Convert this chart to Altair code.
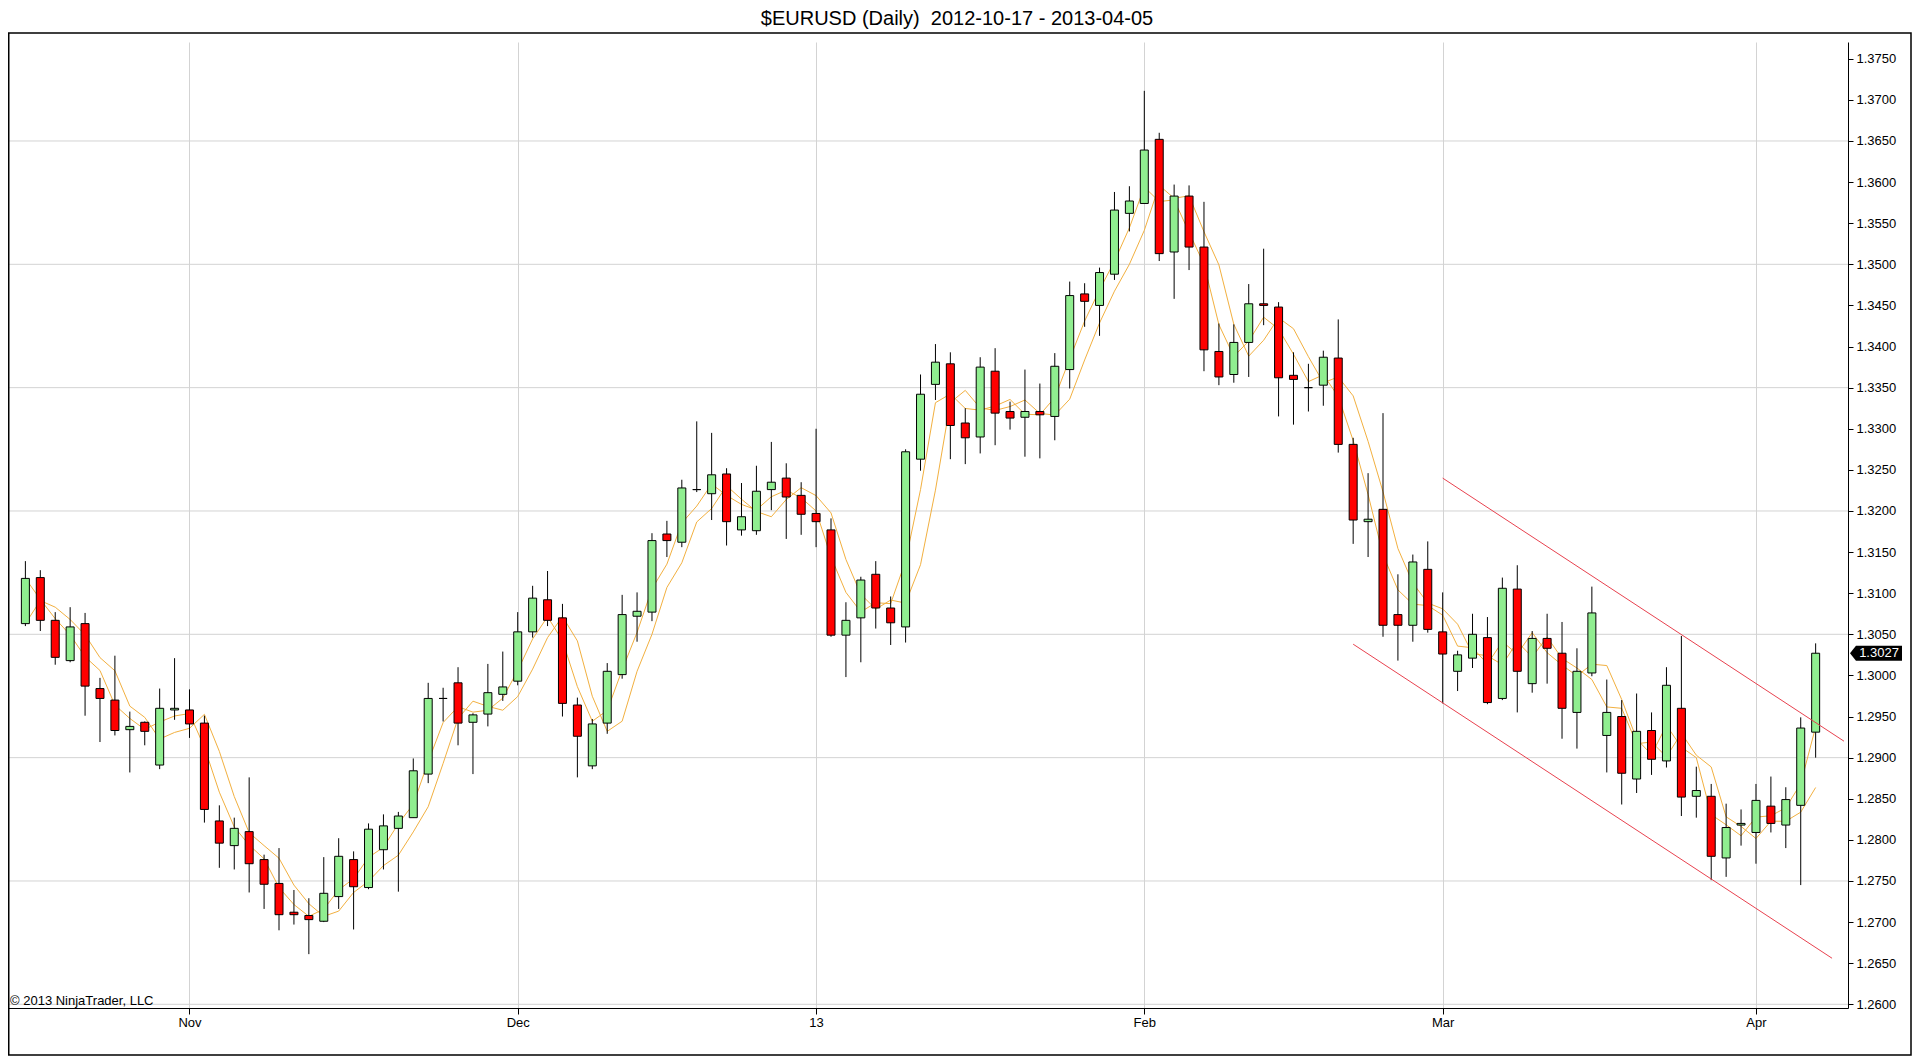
import altair as alt
import pandas as pd

TITLE = "$EURUSD (Daily)\u00a0 2012-10-17 - 2013-04-05"
COPYRIGHT = "\u00a9 2013 NinjaTrader, LLC"

OPEN = [1.3063, 1.3119, 1.3067, 1.3018, 1.3063, 1.2984, 1.2970, 1.2934, 1.2943, 1.2891,
        1.2958, 1.2958, 1.2942, 1.2823, 1.2793, 1.2810, 1.2776, 1.2747, 1.2712, 1.2708,
        1.2701, 1.2731, 1.2776, 1.2742, 1.2788, 1.2814, 1.2827, 1.2880, 1.2972, 1.2991,
        1.2943, 1.2953, 1.2977, 1.2993, 1.3053, 1.3092, 1.3070, 1.2964, 1.2890, 1.2942,
        1.3001, 1.3072, 1.3077, 1.3172, 1.3162, 1.3226, 1.3221, 1.3245, 1.3177, 1.3176,
        1.3226, 1.3240, 1.3219, 1.3197, 1.3177, 1.3049, 1.3070, 1.3123, 1.3082, 1.3059,
        1.3263, 1.3354, 1.3379, 1.3307, 1.3290, 1.3370, 1.3321, 1.3314, 1.3321, 1.3315,
        1.3372, 1.3464, 1.3450, 1.3488, 1.3562, 1.3574, 1.3652, 1.3515, 1.3583, 1.3521,
        1.3394, 1.3366, 1.3405, 1.3452, 1.3448, 1.3365, 1.3350, 1.3353, 1.3386, 1.3281,
        1.3187, 1.3202, 1.3074, 1.3061, 1.3129, 1.3053, 1.3005, 1.3021, 1.3046, 1.2972,
        1.3105, 1.2990, 1.3045, 1.3027, 1.2955, 1.3003, 1.2927, 1.2950, 1.2874, 1.2933,
        1.2896, 1.2960, 1.2853, 1.2853, 1.2778, 1.2818, 1.2809, 1.2841, 1.2818, 1.2842,
        1.2931]
HIGH = [1.3139, 1.3128, 1.3077, 1.3083, 1.3076, 1.2997, 1.3024, 1.2956, 1.2944, 1.2984,
        1.3021, 1.2983, 1.2951, 1.2842, 1.2827, 1.2876, 1.2782, 1.2790, 1.2739, 1.2729,
        1.2779, 1.2802, 1.2786, 1.2820, 1.2831, 1.2834, 1.2899, 1.2991, 1.2985, 1.3010,
        1.2954, 1.3014, 1.3029, 1.3077, 1.3109, 1.3127, 1.3087, 1.2973, 1.2947, 1.3015,
        1.3098, 1.3101, 1.3173, 1.3188, 1.3238, 1.3309, 1.3295, 1.3252, 1.3234, 1.3255,
        1.3284, 1.3258, 1.3235, 1.3300, 1.3191, 1.3089, 1.3120, 1.3139, 1.3096, 1.3275,
        1.3366, 1.3403, 1.3393, 1.3325, 1.3387, 1.3398, 1.3333, 1.3372, 1.3355, 1.3392,
        1.3479, 1.3477, 1.3496, 1.3588, 1.3595, 1.3711, 1.3660, 1.3597, 1.3596, 1.3576,
        1.3428, 1.3427, 1.3476, 1.3519, 1.3454, 1.3393, 1.3379, 1.3395, 1.3433, 1.3289,
        1.3246, 1.3319, 1.3123, 1.3147, 1.3163, 1.3101, 1.3030, 1.3075, 1.3071, 1.3119,
        1.3134, 1.3054, 1.3075, 1.3065, 1.3033, 1.3108, 1.2995, 1.2970, 1.2978, 1.2955,
        1.3010, 1.3048, 1.2889, 1.2868, 1.2844, 1.2837, 1.2868, 1.2877, 1.2864, 1.2949,
        1.3039]
LOW = [1.3060, 1.3054, 1.3013, 1.3016, 1.2951, 1.2919, 1.2927, 1.2882, 1.2915, 1.2886,
       1.2946, 1.2924, 1.2821, 1.2766, 1.2764, 1.2736, 1.2716, 1.2690, 1.2697, 1.2661,
       1.2700, 1.2716, 1.2691, 1.2740, 1.2764, 1.2737, 1.2827, 1.2869, 1.2944, 1.2915,
       1.2880, 1.2938, 1.2969, 1.2988, 1.3046, 1.3060, 1.2950, 1.2876, 1.2886, 1.2929,
       1.2996, 1.3041, 1.3066, 1.3144, 1.3156, 1.3223, 1.3189, 1.3158, 1.3170, 1.3171,
       1.3201, 1.3166, 1.3171, 1.3156, 1.3047, 1.2998, 1.3016, 1.3057, 1.3037, 1.3040,
       1.3249, 1.3335, 1.3263, 1.3257, 1.3270, 1.3280, 1.3299, 1.3266, 1.3264, 1.3286,
       1.3349, 1.3424, 1.3413, 1.3481, 1.3540, 1.3574, 1.3504, 1.3458, 1.3493, 1.3370,
       1.3353, 1.3356, 1.3363, 1.3426, 1.3315, 1.3305, 1.3321, 1.3328, 1.3271, 1.3160,
       1.3144, 1.3047, 1.3018, 1.3041, 1.3052, 1.2966, 1.2981, 1.3009, 1.2965, 1.2970,
       1.2955, 1.2979, 1.2990, 1.2923, 1.2911, 1.2999, 1.2882, 1.2843, 1.2857, 1.2879,
       1.2888, 1.2829, 1.2827, 1.2751, 1.2755, 1.2793, 1.2771, 1.2809, 1.2790, 1.2745,
       1.2900]
CLOSE = [1.3118, 1.3067, 1.3022, 1.3059, 1.2987, 1.2972, 1.2933, 1.2938, 1.2932, 1.2960,
         1.2960, 1.2941, 1.2837, 1.2796, 1.2814, 1.2771, 1.2746, 1.2709, 1.2709, 1.2703,
         1.2735, 1.2780, 1.2743, 1.2813, 1.2817, 1.2829, 1.2884, 1.2972, 1.2972, 1.2942,
         1.2952, 1.2979, 1.2986, 1.3053, 1.3094, 1.3067, 1.2966, 1.2926, 1.2941, 1.3005,
         1.3074, 1.3078, 1.3164, 1.3164, 1.3228, 1.3226, 1.3244, 1.3187, 1.3193, 1.3224,
         1.3235, 1.3217, 1.3196, 1.3187, 1.3049, 1.3067, 1.3116, 1.3082, 1.3064, 1.3272,
         1.3342, 1.3381, 1.3304, 1.3289, 1.3375, 1.3319, 1.3313, 1.3321, 1.3317, 1.3376,
         1.3462, 1.3455, 1.3490, 1.3566, 1.3577, 1.3639, 1.3513, 1.3583, 1.3521, 1.3396,
         1.3363, 1.3405, 1.3452, 1.3450, 1.3362, 1.3360, 1.3350, 1.3387, 1.3281, 1.3189,
         1.3190, 1.3061, 1.3061, 1.3138, 1.3056, 1.3026, 1.3025, 1.3050, 1.2967, 1.3106,
         1.3005, 1.3045, 1.3033, 1.2960, 1.3005, 1.3076, 1.2955, 1.2881, 1.2932, 1.2898,
         1.2988, 1.2852, 1.2860, 1.2780, 1.2815, 1.2820, 1.2848, 1.2820, 1.2849, 1.2936,
         1.3027]

MONTH_BARS = [12, 34, 54, 76, 96, 117]
MONTH_LABELS = ["Nov", "Dec", "13", "Feb", "Mar", "Apr"]

PRICE_TICKS = [1.2600, 1.2650, 1.2700, 1.2750, 1.2800, 1.2850, 1.2900, 1.2950,
               1.3000, 1.3050, 1.3100, 1.3150, 1.3200, 1.3250, 1.3300, 1.3350,
               1.3400, 1.3450, 1.3500, 1.3550, 1.3600, 1.3650, 1.3700, 1.3750]
GRID_PRICES = [1.2600, 1.2750, 1.2900, 1.3050, 1.3200, 1.3350, 1.3500, 1.3650]

UPPER_LINE_X = [96, 122.9]
UPPER_LINE_Y = [1.3240, 1.2920]
LOWER_LINE_X = [90, 122.1]
LOWER_LINE_Y = [1.3038, 1.2656]

W, H = 1848, 966
FONT = "Liberation Sans"

df = pd.DataFrame({
    "i": list(range(1, len(CLOSE) + 1)),
    "open": OPEN, "high": HIGH, "low": LOW, "close": CLOSE,
})

xscale = alt.Scale(domain=[-0.36667, 122.83333], nice=False, zero=False)
yscale = alt.Scale(domain=[1.25955, 1.37704], nice=False, zero=False)

label_expr = "".join(f"datum.value == {b} ? '{l}' : " for b, l in zip(MONTH_BARS, MONTH_LABELS)) + "''"
xaxis = alt.Axis(values=MONTH_BARS, labelExpr=label_expr, tickSize=6, tickColor="black",
                 domainColor="black", labelColor="black", labelFontSize=13, labelFont=FONT,
                 labelPadding=2, grid=True, gridColor="#d3d3d3", title=None,
                 labelFlush=False, labelOverlap=False)
yaxis = alt.Axis(orient="right", values=PRICE_TICKS, format=".4f", tickSize=5,
                 tickColor="black", domainColor="black", labelColor="black",
                 labelFontSize=13, labelFont=FONT, labelPadding=3, grid=False,
                 title=None, labelOverlap=False)

def X(field):
    return alt.X(field, type="quantitative", scale=xscale, axis=xaxis)

def Y(field):
    return alt.Y(field, type="quantitative", scale=yscale, axis=yaxis)

grid = alt.Chart(pd.DataFrame({"p": GRID_PRICES})).mark_rule(
    color="#d3d3d3", strokeWidth=1).encode(y=Y("p"))

sma = alt.Chart(df).transform_window(
    sma_o="mean(open)", sma_c="mean(close)", frame=[-2, 0], sort=[alt.SortField("i")]
).transform_fold(["sma_o", "sma_c"]).mark_line(
    color="#F2B040", strokeWidth=1).encode(x=X("i"), y=Y("value"), detail="key:N")

wicks = alt.Chart(df).mark_rule(color="black", strokeWidth=1).encode(
    x=X("i"), y=Y("low"), y2="high")

bodies = alt.Chart(df).mark_bar(size=8, stroke="black", strokeWidth=1).encode(
    x=X("i"), y=Y("open"), y2="close",
    fill=alt.when("datum.close >= datum.open").then(alt.value("#90EE90")).otherwise(alt.value("#FF0000")))

tl = pd.DataFrame({
    "x": UPPER_LINE_X + LOWER_LINE_X,
    "y": UPPER_LINE_Y + LOWER_LINE_Y,
    "line": ["upper", "upper", "lower", "lower"],
})
trend = alt.Chart(tl).mark_line(color="#E8424F", strokeWidth=1).encode(
    x=X("x"), y=Y("y"), detail="line:N")

last = pd.DataFrame({"close": [CLOSE[-1]], "label": [f"{CLOSE[-1]:.4f}"]})
marker = alt.Chart(last).mark_point(
    shape="M-1,0L-0.77,-0.29L1,-0.29L1,0.29L-0.77,0.29Z", size=2704,
    filled=True, fill="black", opacity=1).encode(
    x=alt.value(1876), y=Y("close"))
marker_text = alt.Chart(last).mark_text(
    color="white", fontSize=13, font=FONT, align="center", baseline="middle").encode(
    x=alt.value(1879), y=Y("close"), text="label:N")

title = alt.Chart(pd.DataFrame({"t": [TITLE]})).mark_text(
    fontSize=20, font=FONT, color="black", align="center", baseline="alphabetic").encode(
    x=alt.value(957), y=alt.value(-17), text="t:N")

copy = alt.Chart(pd.DataFrame({"t": [COPYRIGHT]})).mark_text(
    fontSize=13, font=FONT, color="black", align="left", baseline="alphabetic").encode(
    x=alt.value(10), y=alt.value(963), text="t:N")

frame = alt.Chart(pd.DataFrame({"a": [0]})).mark_rect(
    fillOpacity=0, stroke="black", strokeWidth=1.5).encode(
    x=alt.value(8.75), x2=alt.value(1911), y=alt.value(-9), y2=alt.value(1013))

chart = alt.layer(grid, sma, wicks, bodies, trend, marker, marker_text, title, copy, frame).properties(
    width=W, height=H,
    autosize=alt.AutoSizeParams(type="none"),
    padding={"left": -8, "top": 34, "right": 64, "bottom": 48},
    background="white",
).configure_view(stroke=None)

chart.save("out.html", embed_options={"renderer": "svg", "actions": False})
